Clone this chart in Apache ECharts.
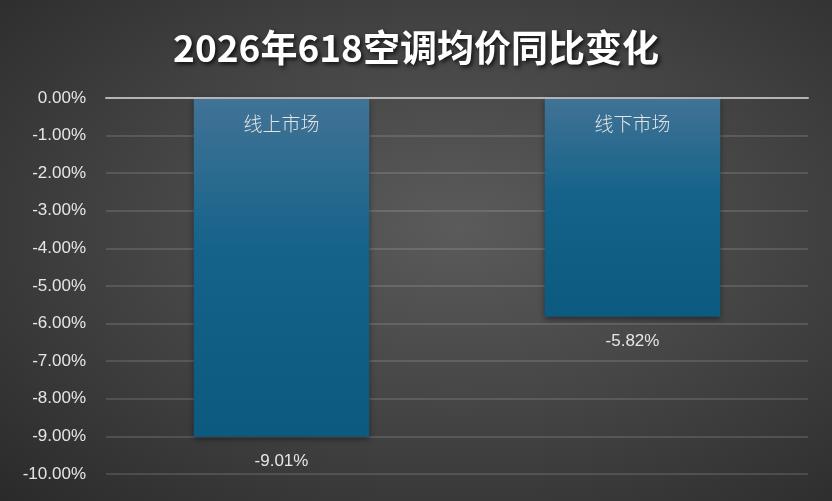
<!DOCTYPE html>
<html>
<head>
<meta charset="utf-8">
<script src="https://cdn.jsdelivr.net/npm/echarts@6/dist/echarts.min.js"></script>
<style>
  html, body { margin: 0; padding: 0; }
  #chart {
    width: 832px; height: 501px;
    background: radial-gradient(ellipse at 55% 45%, #5b5b5b 0%, #464646 45%, #2a2a2a 100%);
  }
</style>
</head>
<body>
<div id="chart"></div>
<script>
// data
const markets = ['线上市场', '线下市场'];
const priceChange = [-9.01, -5.82];
const yMin = -10, yMax = 0, yStep = 1;

const chart = echarts.init(document.getElementById('chart'));

chart.setOption({
  backgroundColor: 'transparent',
  title: {
    text: '2026年618空调均价同比变化',
    left: 'center',
    top: 24,
    textStyle: {
      color: '#ffffff',
      fontSize: 37,
      fontWeight: 'bold',
      fontFamily: 'Noto Sans CJK SC',
      textShadowColor: 'rgba(0,0,0,0.8)',
      textShadowBlur: 4,
      textShadowOffsetX: 2,
      textShadowOffsetY: 2
    }
  },
  grid: { left: 106, right: 24, top: 98, bottom: 27 },
  xAxis: {
    type: 'category',
    data: markets,
    position: 'top',
    axisTick: { show: false },
    axisLine: { show: true, lineStyle: { color: '#b4b4b4', width: 2 } },
    axisLabel: {
      inside: true,
      margin: 16,
      color: '#e4e4e4',
      fontSize: 19,
      fontWeight: 300,
      fontFamily: 'Noto Sans CJK SC'
    },
    z: 10
  },
  yAxis: {
    type: 'value',
    min: yMin,
    max: yMax,
    interval: yStep,
    axisLine: { show: false },
    axisTick: { show: false },
    axisLabel: {
      color: '#e6e6e6',
      fontSize: 17,
      margin: 20,
      fontFamily: 'Liberation Sans',
      formatter: v => v.toFixed(2) + '%'
    },
    splitLine: { lineStyle: { color: 'rgba(255,255,255,0.17)', width: 1.5 } }
  },
  series: [{
    type: 'bar',
    data: priceChange,
    barWidth: '50%',
    itemStyle: {
      color: new echarts.graphic.LinearGradient(0, 0, 0, 1, [
        { offset: 0, color: '#417395' },
        { offset: 0.45, color: '#15628a' },
        { offset: 1, color: '#0d5a80' }
      ]),
      shadowColor: 'rgba(0,0,0,0.45)',
      shadowBlur: 6,
      shadowOffsetY: 2
    },
    label: {
      show: true,
      position: 'bottom',
      distance: 16,
      color: '#e6e6e6',
      fontSize: 17,
      fontFamily: 'Liberation Sans',
      formatter: p => p.value.toFixed(2) + '%'
    }
  }]
});
</script>
</body>
</html>
